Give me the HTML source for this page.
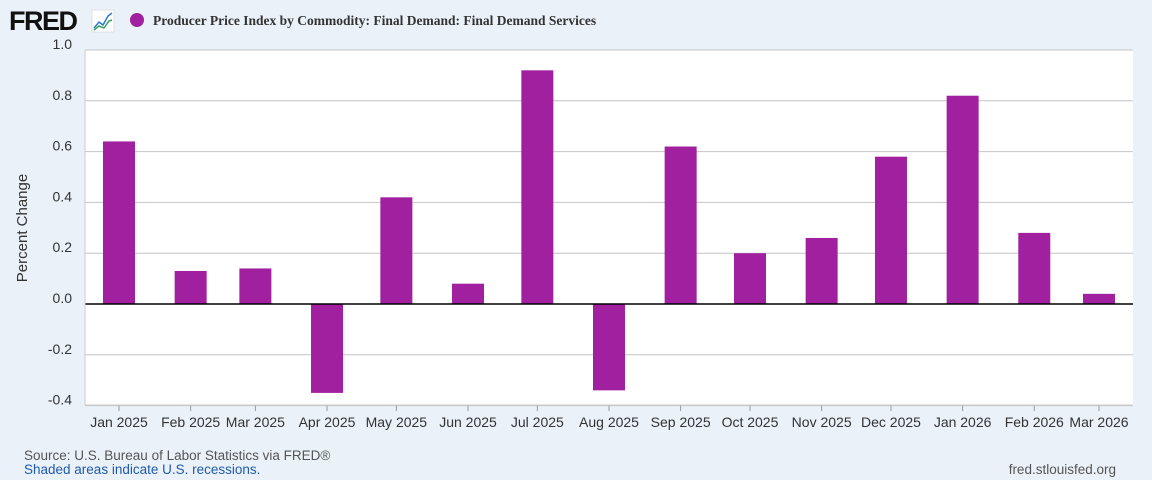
<!DOCTYPE html>
<html><head><meta charset="utf-8"><style>
body{margin:0;background:#eaf1f9;font-family:"Liberation Sans",sans-serif;}
#wrap{position:relative;width:1152px;height:480px;overflow:hidden;background:#eaf1f9;}
</style></head><body>
<div id="wrap">
<svg id="chart" width="1152" height="480">
<g>
<text x="9" y="30" font-family="Liberation Sans" font-weight="bold" font-size="27" fill="#111" letter-spacing="-1.5">FRED</text>
<rect x="92" y="10" width="22" height="22" fill="#fff" stroke="#ccc" stroke-width="0.5"/>
<polyline points="94,28 99,22 103,25 108,16 112,13" fill="none" stroke="#2a7ad8" stroke-width="1.5"/>
<polyline points="94,30 99,26 104,28 109,21 112,20" fill="none" stroke="#3aa05a" stroke-width="1.5"/>
</g>
<circle cx="137" cy="20" r="7" fill="#a020a0"/>
<text x="153" y="25" font-family="Liberation Serif" font-weight="bold" font-size="13.5" fill="#333">Producer Price Index by Commodity: Final Demand: Final Demand Services</text>
<rect x="85" y="50" width="1048" height="355" fill="#fff"/>
<g id="grid"></g>
<g id="bars"></g>
<g id="axes"></g>
<text x="0" y="0" transform="translate(27,228) rotate(-90)" text-anchor="middle" font-size="15" fill="#333">Percent Change</text>
<text x="24" y="460" font-size="13.5" fill="#555">Source: U.S. Bureau of Labor Statistics via FRED®</text>
<text x="24" y="474" font-size="13.5" fill="#1f5ba8">Shaded areas indicate U.S. recessions.</text>
<text x="1116" y="474" text-anchor="end" font-size="13.5" fill="#555">fred.stlouisfed.org</text>
</svg>
</div>
<script>
const categories=["Jan 2025","Feb 2025","Mar 2025","Apr 2025","May 2025","Jun 2025","Jul 2025","Aug 2025","Sep 2025","Oct 2025","Nov 2025","Dec 2025","Jan 2026","Feb 2026","Mar 2026"];
const dayOffsets=[0,31,59,90,120,151,181,212,243,273,304,334,365,396,424];
const values=[0.64,0.13,0.14,-0.35,0.42,0.08,0.92,-0.34,0.62,0.20,0.26,0.58,0.82,0.28,0.04];
const yTicks=[1.0,0.8,0.6,0.4,0.2,0.0,-0.2,-0.4];
const yTickLabels=["1.0","0.8","0.6","0.4","0.2","0.0","-0.2","-0.4"];
const NS="http://www.w3.org/2000/svg";
function y(v){return 304-v*254;}
function x(d){return 119+d*(980/424);}
const grid=document.getElementById('grid'),bars=document.getElementById('bars'),axes=document.getElementById('axes');
function mk(tag,attrs,parent){const e=document.createElementNS(NS,tag);for(const k in attrs)e.setAttribute(k,attrs[k]);parent.appendChild(e);return e;}
yTicks.forEach((t,i)=>{
  if(t!==0){const l=mk('line',{x1:85,x2:1133,y1:y(t),y2:y(t),stroke:'#c4c4c4','stroke-width':1},grid);
  
  }
  const tx=mk('text',{x:72,y:y(t)-1,'text-anchor':'end','font-size':14,fill:'#333'},axes);
  tx.textContent=yTickLabels[i];
  
  
});
values.forEach((v,i)=>{
  const cx=x(dayOffsets[i]);
  const r=mk('rect',{x:cx-16,width:32,y:Math.min(y(v),y(0)),height:Math.abs(y(v)-y(0)),fill:'#a020a0'},bars);
  
  
  const tk=mk('line',{x1:cx,x2:cx,y1:405,y2:411,stroke:'#999'},axes);
  
  
  const tl=mk('text',{x:cx,y:427,'text-anchor':'middle','font-size':14,fill:'#333'},axes);
  tl.textContent=categories[i];
  
  
});
const z=mk('line',{x1:85,x2:1133,y1:y(0),y2:y(0),stroke:'#000','stroke-width':1.5},axes);


const la=mk('line',{x1:85,x2:85,y1:50,y2:405,stroke:'#ccc'},axes);


const ba=mk('line',{x1:85,x2:1133,y1:405,y2:405,stroke:'#ccc'},axes);


</script>
</body></html>
